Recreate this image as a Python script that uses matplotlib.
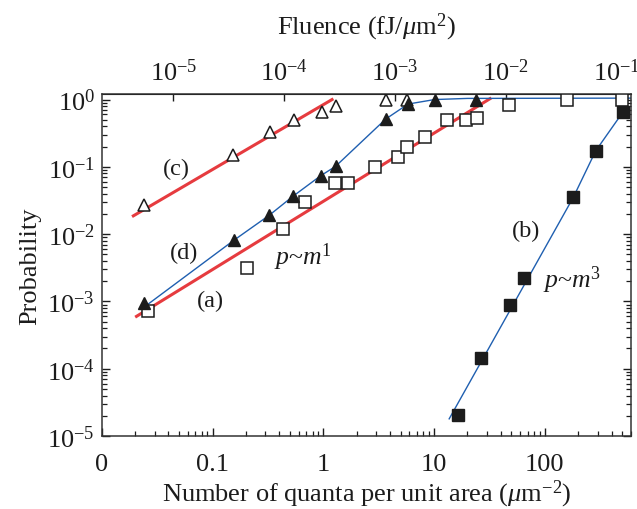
import matplotlib
matplotlib.use("Agg")
import matplotlib.pyplot as plt
from matplotlib.ticker import NullLocator, LogLocator

# (a) open squares
a_m = [0.0262, 0.203, 0.437, 0.69, 1.265, 1.67, 2.91, 4.73, 5.70, 8.24, 13.1, 19.4, 24.5, 47.3, 160, 493]
a_p = [7.1e-4, 3.1e-3, 0.012, 0.030, 0.057, 0.057, 0.100, 0.141, 0.199, 0.280, 0.50, 0.50, 0.53, 0.83, 1.0, 1.0]
# (b) filled squares
b_m = [16.5, 26.8, 48.3, 64.7, 180.6, 288, 505]
b_p = [2.04e-5, 1.42e-4, 8.9e-4, 2.22e-3, 0.0351, 0.173, 0.645]
# (c) open triangles
c_m = [0.0242, 0.154, 0.329, 0.54, 0.97, 1.29, 3.68, 5.7]
c_p = [0.027, 0.150, 0.325, 0.50, 0.645, 0.81, 1.0, 1.0]
# (d) filled triangles
d_m = [0.0239, 0.155, 0.327, 0.531, 0.946, 1.29, 3.66, 5.82, 10.1, 23.8]
d_p = [9.4e-4, 8.05e-3, 0.0192, 0.0364, 0.0736, 0.1016, 0.513, 0.857, 1.0, 1.0]

# fitted lines
fit_a_m = [0.0206, 32.0]
fit_a_p = [6.0e-4, 1.03]
fit_c_m = [0.0193, 1.2]
fit_c_p = [0.0187, 1.0]
curve_d_m = [0.025, 0.155, 0.327, 0.531, 0.946, 1.29, 3.66, 5.82, 10.1, 20.0, 600]
curve_d_p = [8.6e-4, 8.05e-3, 0.0192, 0.0364, 0.0736, 0.1016, 0.513, 0.857, 1.0, 1.04, 1.05]
curve_b_m = [13.7, 180.6, 288, 505, 530]
curve_b_p = [1.8e-5, 0.0351, 0.173, 0.645, 1.0]

# fluence per quantum, fJ
fj_per_quantum = 2.25e-4

x_ticks = [0.01, 0.1, 1, 10, 100]
x_labels = ["0", "0.1", "1", "10", "100"]
y_ticks = [1e-5, 1e-4, 1e-3, 1e-2, 1e-1, 1]
y_labels = [r"$10^{-5}$", r"$10^{-4}$", r"$10^{-3}$", r"$10^{-2}$", r"$10^{-1}$", r"$10^{0}$"]
top_ticks = [1e-5, 1e-4, 1e-3, 1e-2, 1e-1]
top_labels = [r"$10^{-5}$", r"$10^{-4}$", r"$10^{-3}$", r"$10^{-2}$", r"$10^{-1}$"]

plt.rcParams["font.family"] = ["Liberation Serif", "DejaVu Serif"]
plt.rcParams["mathtext.fontset"] = "custom"
plt.rcParams["mathtext.rm"] = "Liberation Serif"
plt.rcParams["mathtext.it"] = "Liberation Serif:italic"
plt.rcParams["mathtext.bf"] = "Liberation Serif:bold"

RED = "#e63b3f"
BLUE = "#1f5fb0"
INK = "#1c1c1c"
TICK_FS = 19
LABEL_FS = 19

fig = plt.figure(figsize=(6.37, 5.10), dpi=100)
ax = fig.add_axes([0.1597, 0.1431, 0.8309, 0.6716])
ax.set_xscale("log")
ax.set_yscale("log")
ax.set_xlim(0.01, 600)
ax.set_ylim(1e-5, 1.23)

ax.plot(fit_c_m, fit_c_p, color=RED, lw=2.2, zorder=2)
ax.plot(fit_a_m, fit_a_p, color=RED, lw=2.2, zorder=2)
ax.plot(curve_d_m, curve_d_p, color=BLUE, lw=1.0, zorder=2)
ax.plot(curve_b_m, curve_b_p, color=BLUE, lw=1.0, zorder=2)

ax.plot(a_m, a_p, "s", ms=8.3, mfc="white", mec=INK, mew=1.1, ls="none", zorder=3)
ax.plot(b_m, b_p, "s", ms=8.3, mfc=INK, mec=INK, mew=1.0, ls="none", zorder=3)
ax.plot(c_m, c_p, "^", ms=8.5, mfc="white", mec=INK, mew=1.1, ls="none", zorder=3)
ax.plot(d_m, d_p, "^", ms=8.5, mfc=INK, mec=INK, mew=1.0, ls="none", zorder=3)

lbl = dict(fontsize=17.5, ha="center", va="center", color=INK)
ax.text(0.0469, 0.0948, "(c)", **lbl)
ax.text(0.0557, 5.35e-3, "(d)", **lbl)
ax.text(0.095, 1.02e-3, "(a)", **lbl)
ax.text(68.4, 0.0112, "(b)", **lbl)
lbl["fontsize"] = 18.5
ax.text(0.654, 4.75e-3, r"$p$~$m^{1}$", **lbl)
ax.text(174.7, 2.14e-3, r"$p$~$m^{3}$", **lbl)

ax.set_xticks(x_ticks, labels=x_labels)
ax.set_yticks(y_ticks, labels=y_labels)
ax.xaxis.set_minor_locator(LogLocator(base=10, subs=range(2, 10), numticks=20))
ax.yaxis.set_minor_locator(LogLocator(base=10, subs=range(2, 10), numticks=20))
ax.tick_params(axis="both", which="both", direction="in", labelsize=TICK_FS, colors=INK)
ax.tick_params(axis="x", which="both", top=False, bottom=True, pad=12)
ax.tick_params(axis="y", which="both", left=True, right=True, pad=5)
ax.tick_params(which="major", length=6, width=1.0)
ax.tick_params(which="minor", length=3.5, width=0.9)
for s in ax.spines.values():
    s.set_linewidth(1.1)
    s.set_color("#333333")

ax.set_xlabel(r"Number of quanta per unit area ($\mu$m$^{-2}$)", fontsize=LABEL_FS, color=INK, labelpad=2)
ax.set_ylabel("Probability", fontsize=LABEL_FS, color=INK, labelpad=4)

top = ax.secondary_xaxis("top", functions=(lambda m: m * fj_per_quantum, lambda f: f / fj_per_quantum))
top.set_xticks(top_ticks, labels=top_labels)
top.xaxis.set_minor_locator(NullLocator())
top.tick_params(axis="x", which="major", direction="in", length=5, width=1.0, labelsize=TICK_FS, colors=INK, pad=6)
top.set_xlabel(r"Fluence (fJ/$\mu$m$^{2}$)", fontsize=LABEL_FS, color=INK, labelpad=18)

fig.savefig("out.png", dpi=100)
